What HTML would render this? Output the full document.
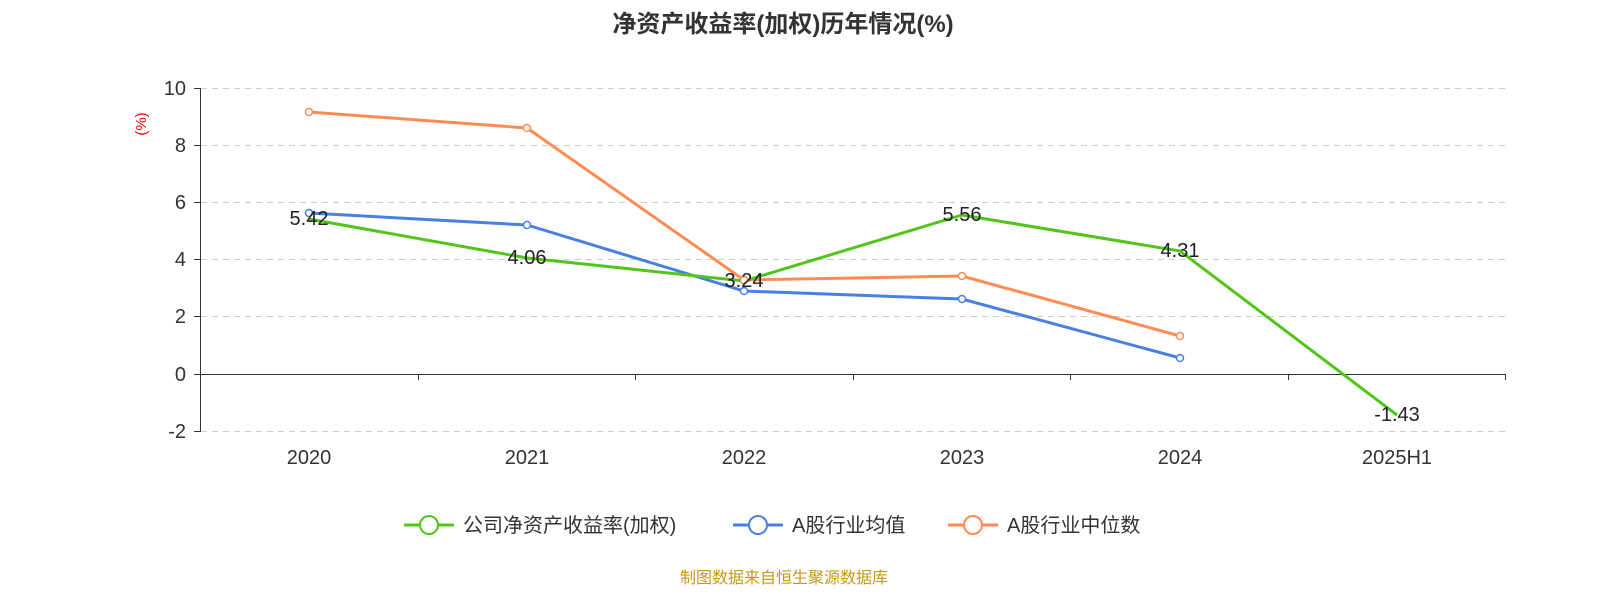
<!DOCTYPE html>
<html><head><meta charset="utf-8"><style>
body{margin:0;background:#fff;}
svg text{font-family:"Liberation Sans","Noto Sans CJK SC",sans-serif;}
</style></head><body>
<svg width="1600" height="600" xmlns="http://www.w3.org/2000/svg">
<text x="783" y="32" text-anchor="middle" font-size="24" font-weight="bold" fill="#333">净资产收益率(加权)历年情况(%)</text>
<g stroke="#ccc" stroke-dasharray="6,5" stroke-width="1">
<line x1="201" x2="1505" y1="88.5" y2="88.5"/><line x1="201" x2="1505" y1="145.5" y2="145.5"/>
<line x1="201" x2="1505" y1="202.5" y2="202.5"/><line x1="201" x2="1505" y1="259.5" y2="259.5"/>
<line x1="201" x2="1505" y1="316.5" y2="316.5"/><line x1="201" x2="1505" y1="431.5" y2="431.5"/>
</g>
<g stroke="#333" stroke-width="1">
<line x1="200.5" x2="200.5" y1="88" y2="432"/>
<line x1="200" x2="1505" y1="374.5" y2="374.5"/>
<line x1="194" x2="200" y1="88.5" y2="88.5"/><line x1="194" x2="200" y1="145.5" y2="145.5"/>
<line x1="194" x2="200" y1="202.5" y2="202.5"/><line x1="194" x2="200" y1="259.5" y2="259.5"/>
<line x1="194" x2="200" y1="316.5" y2="316.5"/><line x1="194" x2="200" y1="374.5" y2="374.5"/>
<line x1="194" x2="200" y1="431.5" y2="431.5"/>
<line x1="418.5" x2="418.5" y1="374" y2="380"/><line x1="635.5" x2="635.5" y1="374" y2="380"/>
<line x1="853.5" x2="853.5" y1="374" y2="380"/><line x1="1070.5" x2="1070.5" y1="374" y2="380"/>
<line x1="1288.5" x2="1288.5" y1="374" y2="380"/><line x1="1505.5" x2="1505.5" y1="374" y2="380"/>
</g>
<g font-size="20" fill="#333" text-anchor="end">
<text x="186" y="95">10</text><text x="186" y="152">8</text><text x="186" y="209">6</text>
<text x="186" y="266">4</text><text x="186" y="323">2</text><text x="186" y="381">0</text><text x="186" y="438">-2</text>
</g>
<text x="146" y="124" font-size="15" fill="#e00" text-anchor="middle" transform="rotate(-90 146 124)">(%)</text>
<g font-size="20" fill="#333" text-anchor="middle">
<text x="309" y="464">2020</text><text x="527" y="464">2021</text><text x="744" y="464">2022</text>
<text x="962" y="464">2023</text><text x="1180" y="464">2024</text><text x="1397" y="464">2025H1</text>
</g>
<polyline fill="none" stroke="#ff8c55" stroke-width="3" points="309,112 527,128 744,280 962,276 1180,336"/>
<polyline fill="none" stroke="#4a80e0" stroke-width="3" points="309,213 527,225 744,291 962,299 1180,358"/>
<polyline fill="none" stroke="#52c41a" stroke-width="3" points="309,219 527,258 744,281 962,215 1180,251 1397,415"/>
<g fill="#fff" stroke="#ff8c55" stroke-width="1.5">
<circle cx="309" cy="112" r="3.5"/><circle cx="527" cy="128" r="3.5"/><circle cx="744" cy="280" r="3.5"/><circle cx="962" cy="276" r="3.5"/><circle cx="1180" cy="336" r="3.5"/></g>
<g fill="#fff" stroke="#4a80e0" stroke-width="1.5">
<circle cx="309" cy="213" r="3.5"/><circle cx="527" cy="225" r="3.5"/><circle cx="744" cy="291" r="3.5"/><circle cx="962" cy="299" r="3.5"/><circle cx="1180" cy="358" r="3.5"/></g>
<g font-size="20" fill="#222" text-anchor="middle">
<text x="309" y="225">5.42</text><text x="527" y="264">4.06</text><text x="744" y="287">3.24</text>
<text x="962" y="221">5.56</text><text x="1180" y="257">4.31</text><text x="1397" y="421">-1.43</text>
</g>
<g font-size="20" fill="#333">
<line x1="404" x2="454" y1="525" y2="525" stroke="#52c41a" stroke-width="3"/><circle cx="429" cy="525" r="9" fill="#fff" stroke="#52c41a" stroke-width="2"/>
<text x="463" y="532">公司净资产收益率(加权)</text>
<line x1="733" x2="783" y1="525" y2="525" stroke="#4a80e0" stroke-width="3"/><circle cx="758" cy="525" r="9" fill="#fff" stroke="#4a80e0" stroke-width="2"/>
<text x="792" y="532">A股行业均值</text>
<line x1="948" x2="998" y1="525" y2="525" stroke="#ff8c55" stroke-width="3"/><circle cx="973" cy="525" r="9" fill="#fff" stroke="#ff8c55" stroke-width="2"/>
<text x="1007" y="532">A股行业中位数</text>
</g>
<text x="784" y="583" font-size="16" fill="#c8961e" text-anchor="middle">制图数据来自恒生聚源数据库</text>
</svg>
</body></html>
